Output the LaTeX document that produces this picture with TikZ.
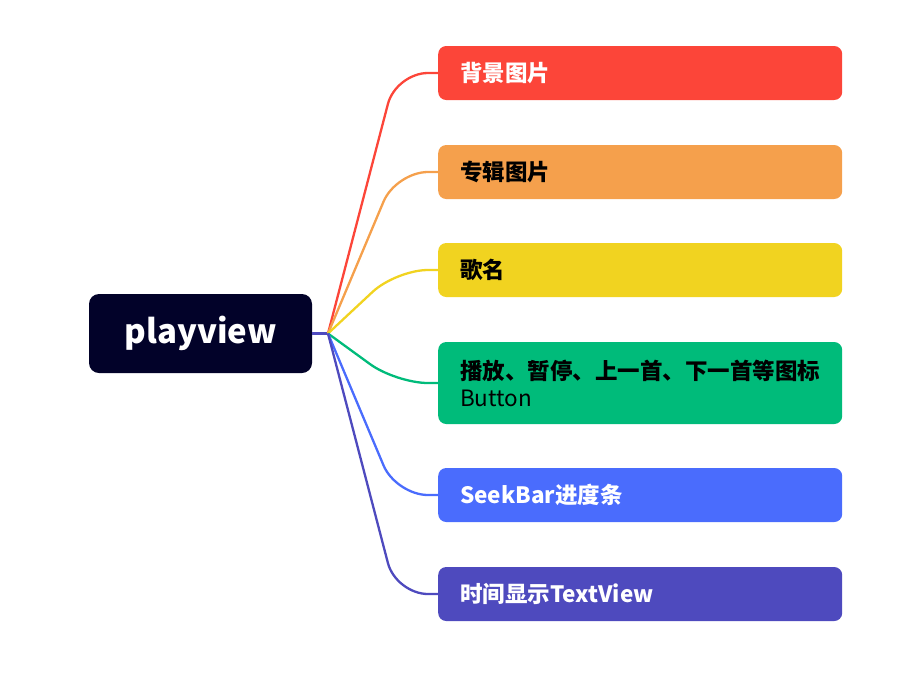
\documentclass[tikz,border=0pt]{standalone}
\usepackage{fontspec}
\setmainfont{Noto Sans CJK SC}
\usetikzlibrary{positioning}
\definecolor{rootc}{HTML}{020229}
\definecolor{redc}{HTML}{FC4539}
\definecolor{orangec}{HTML}{F5A04C}
\definecolor{yellowc}{HTML}{F1D320}
\definecolor{greenc}{HTML}{00BB7A}
\definecolor{bluec}{HTML}{4A6CFD}
\definecolor{purplec}{HTML}{4E4ABE}
\begin{document}
\begin{tikzpicture}
  [x=1pt,y=-1pt,
   topic/.style={rounded corners=8pt,inner xsep=22pt,inner ysep=0pt,text width=360pt,
     minimum height=54pt,anchor=west,align=left,font=\fontsize{22.5}{27}\selectfont\bfseries},
   branch/.style={line width=2.3pt,rounded corners=32pt}]
  \useasboundingbox (0,0) rectangle (920,673);
  \node[fill=rootc,text=white,rounded corners=10pt,minimum width=223pt,minimum height=79pt,
    font=\fontsize{33}{38}\selectfont\bfseries] (root) at (200.5,333.5) {playview};
  \coordinate (jn) at (328,333.5);
  \node[topic,fill=redc,text=white] (b1) at (438,73) {背景图片};
  \node[topic,fill=orangec] (b2) at (438,172) {专辑图片};
  \node[topic,fill=yellowc] (b3) at (438,270) {歌名};
  \node[topic,fill=greenc,minimum height=82pt] (b4) at (438,383)
    {播放、暂停、上一首、下一首等图标\\{\mdseries Button}};
  \node[topic,fill=bluec,text=white] (b5) at (438,495) {SeekBar进度条};
  \node[topic,fill=purplec,text=white] (b6) at (438,594) {时间显示TextView};
 \draw[line width=2.3pt,purplec] (root.east) -- (jn);
 \draw[branch,redc] (jn) -- ([xshift=-42pt]b1.west) -- (b1.west);
 \draw[branch,orangec] (jn) -- ([xshift=-42pt]b2.west) -- (b2.west);
 \draw[branch,yellowc] (jn) -- ([xshift=-42pt]b3.west) -- (b3.west);
 \draw[branch,greenc] (jn) -- ([xshift=-42pt]b4.west) -- (b4.west);
 \draw[branch,bluec] (jn) -- ([xshift=-42pt]b5.west) -- (b5.west);
 \draw[branch,purplec] (jn) -- ([xshift=-42pt]b6.west) -- (b6.west);
\end{tikzpicture}
\end{document}
